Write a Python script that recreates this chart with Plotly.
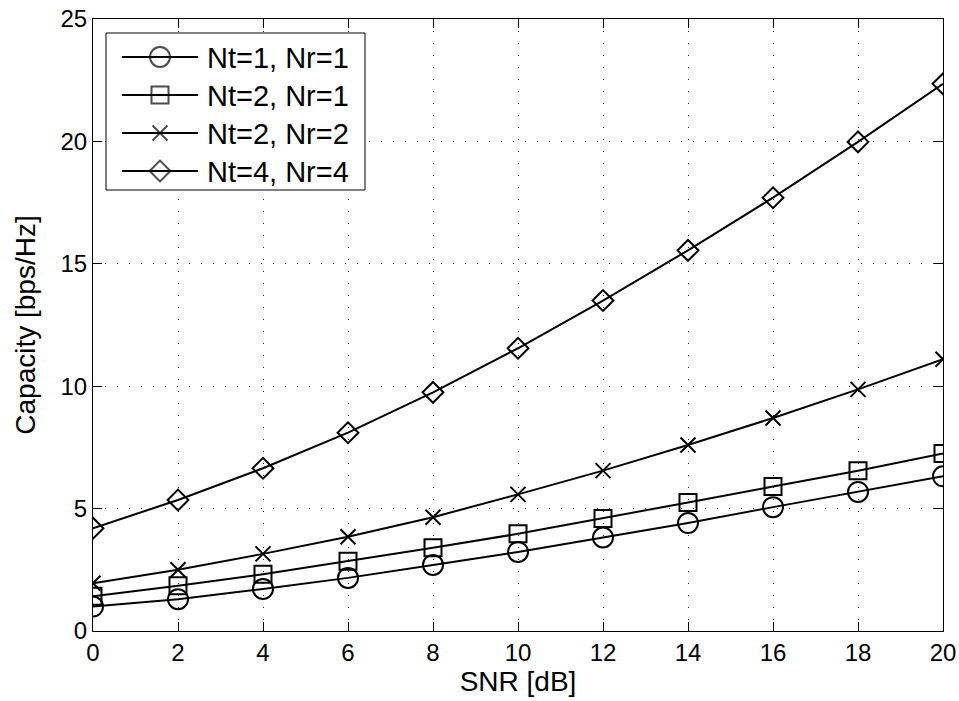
import plotly.graph_objects as go

snr = [0, 2, 4, 6, 8, 10, 12, 14, 16, 18, 20]
cap_1x1 = [1.0, 1.3, 1.72, 2.17, 2.7, 3.23, 3.82, 4.41, 5.06, 5.68, 6.32]
cap_2x1 = [1.42, 1.85, 2.32, 2.85, 3.4, 3.97, 4.6, 5.25, 5.9, 6.55, 7.25]
cap_2x2 = [1.95, 2.5, 3.15, 3.85, 4.65, 5.58, 6.55, 7.6, 8.7, 9.87, 11.1]
cap_4x4 = [4.2, 5.35, 6.65, 8.1, 9.75, 11.55, 13.5, 15.55, 17.7, 19.98, 22.35]

labels = ["Nt=1, Nr=1", "Nt=2, Nr=1", "Nt=2, Nr=2", "Nt=4, Nr=4"]
symbols = ["circle-open", "square-open", "x-thin-open", "diamond-open"]
sizes = [20, 17, 15, 16]
series = [cap_1x1, cap_2x1, cap_2x2, cap_4x4]

FONT = "Liberation Sans, Arial, sans-serif"

fig = go.Figure()
for y, name, sym, sz in zip(series, labels, symbols, sizes):
    fig.add_trace(go.Scatter(
        x=snr, y=y, mode="lines+markers", name=name, showlegend=False,
        line=dict(color="black", width=2),
        marker=dict(symbol=sym, size=sz, color="black",
                    line=dict(color="black", width=2)),
    ))

# custom legend box drawn in an overlay pixel-like axis
fig.add_trace(go.Scatter(
    x=[106, 365, 365, 106, 106], y=[33, 33, 190, 190, 33], mode="lines",
    fill="toself", fillcolor="white", line=dict(color="black", width=1),
    xaxis="x2", yaxis="y2", showlegend=False, hoverinfo="skip",
))
row_y = [57, 95, 133, 171]
for ry, name, sym, sz in zip(row_y, labels, symbols, sizes):
    fig.add_trace(go.Scatter(
        x=[122, 160, 198], y=[ry, ry, ry], mode="lines+markers",
        xaxis="x2", yaxis="y2", showlegend=False, hoverinfo="skip",
        line=dict(color="black", width=2),
        marker=dict(symbol=sym, size=[0, sz, 0], color="black",
                    line=dict(color="black", width=2)),
    ))
    fig.add_annotation(x=205, y=ry + 1, xref="x2", yref="y2", text=name,
                       showarrow=False, xanchor="left", yanchor="middle",
                       font=dict(family=FONT, size=29, color="black"))

axis_common = dict(
    showline=True, linecolor="black", linewidth=1, mirror="ticks",
    ticks="inside", ticklen=9, tickcolor="black", automargin=False,
    showgrid=True, gridcolor="rgba(0,0,0,0.85)", griddash="1px,11px", gridwidth=1,
    zeroline=False, tickfont=dict(family=FONT, size=24, color="black"),
)

fig.update_layout(
    width=959, height=701,
    margin=dict(l=93, r=16, t=19, b=70),
    paper_bgcolor="white", plot_bgcolor="white",
    xaxis=dict(range=[0, 20], tickvals=list(range(0, 21, 2)),
               title=dict(text="SNR [dB]", font=dict(family=FONT, size=28, color="black"),
                          standoff=4),
               **axis_common),
    yaxis=dict(range=[0, 25], tickvals=[0, 5, 10, 15, 20, 25],
               title=dict(text="Capacity [bps/Hz]", font=dict(family=FONT, size=28, color="black"),
                          standoff=16),
               **axis_common),
    xaxis2=dict(overlaying="x", range=[93, 943], visible=False, fixedrange=True, automargin=False),
    yaxis2=dict(overlaying="y", range=[631, 19], visible=False, fixedrange=True, automargin=False),
    font=dict(family=FONT),
)

fig.write_html(
    "out.html",
    config={"displayModeBar": False},
    post_script="document.body.style.margin='0';document.body.style.overflow='hidden';"
                "document.documentElement.style.overflow='hidden';",
)
